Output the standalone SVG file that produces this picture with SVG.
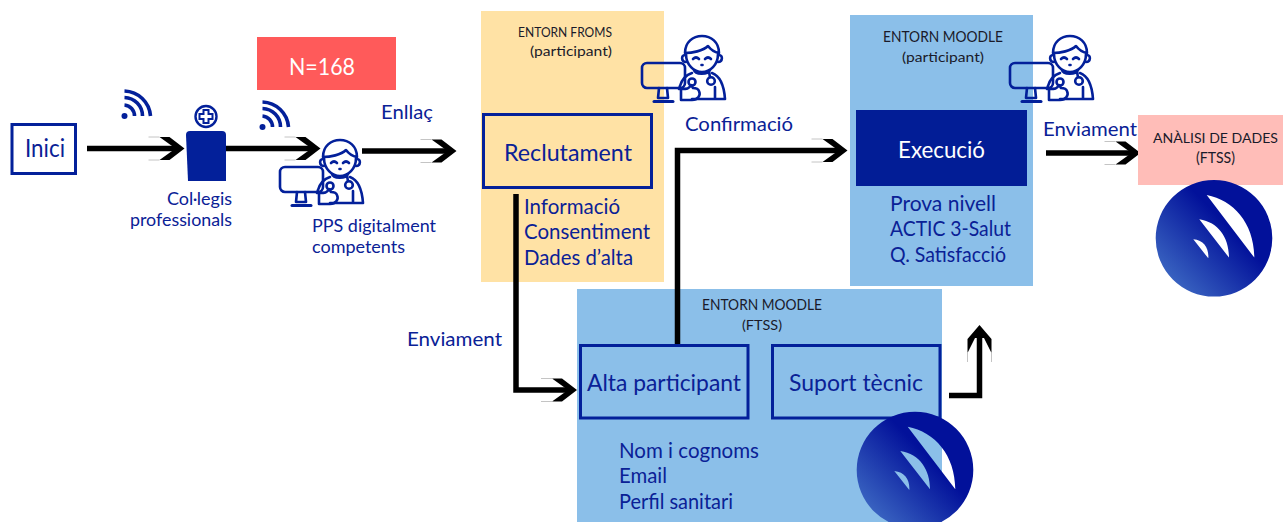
<svg xmlns="http://www.w3.org/2000/svg" xmlns:xlink="http://www.w3.org/1999/xlink" width="1283" height="522" viewBox="0 0 1283 522">
<style>
text{font-family:"Lato","Open Sans","Liberation Sans",sans-serif;fill:#0a2196}
.k{fill:#1a1a2a}
.w{fill:#fff}
.box{fill:none;stroke:#03209a;stroke-width:3}
.ln{fill:none;stroke:#000;stroke-width:5.5;stroke-linejoin:miter}
.ic{fill:none;stroke:#03209a;stroke-width:2.6;stroke-linecap:round;stroke-linejoin:round}
.wf{fill:none;stroke:#03209a;stroke-width:3.6}
</style>
<defs>
<linearGradient id="lg" x1="0.12" y1="0.88" x2="0.62" y2="0.4">
<stop offset="0" stop-color="#3b66c2"/><stop offset="1" stop-color="#02119a"/>
</linearGradient>
<g id="ah">
<path d="M-25 -11.500H-15L0 0L-15 11.500H-25L-9 0Z" fill="#000"/>
<path d="M-36 -11.500H-25M-36 11.500H-25" stroke="#c4c4c4" stroke-width="1" fill="none"/>
</g>
<g id="doc" class="ic">
<rect x="0" y="28" width="43" height="25" rx="5"/>
<path d="M17 53L16 63H26L25 53" /><path d="M12 66.500H31" stroke-width="3"/>
<path d="M43 18C43 7 51 1 60 1C69 1 77 7 77 18C72 17 69 15 66 11C61 16 50 18 43 18Z"/>
<path d="M44 19C44 30 52 37 60 37C68 37 76 30 76 19"/>
<path d="M43 20C39 20 39 27 44 27M77 20C81 20 81 27 76 27"/>
<path d="M51 24Q54 21 57 24M63 24Q66 21 69 24"/><path d="M59.500 30H60.500"/>
<path d="M52 35C53 40 66 40 68 35"/>
<path d="M50 38C44 40 40 44 38 51L37 54M70 38C78 41 82 50 83 64H50M73 52V63M67 37L68 42"/>
<circle cx="69" cy="46" r="3.800"/><circle cx="50" cy="47" r="3.500"/>
<path d="M39 54V65H50C56 65 59 60 57 56C56 53 53 53 51 53L49 50C47 54 45 54 39 54Z"/>
</g>
<g id="wifi" class="wf">
<circle cx="0" cy="0" r="3" fill="#03209a" stroke="none"/>
<path d="M0 -10A11 11 0 0 1 10 1M0 -17.500A18.500 18.500 0 0 1 18 1M0 -24A27 27 0 0 1 26 1" transform="translate(0 -1)"/>
</g>
<path id="logo" fill="url(#lg)" fill-rule="evenodd" d="M-58.300 0A58.300 58.300 0 1 1 58.300 0A58.300 58.300 0 1 1 -58.300 0ZM-7.300 -43.300C20 -38 40 -15 40.300 19.300ZM-14.700 -19C5 -16 15 0 15 19.300ZM-20.700 1C-10 2 -5 10 -5.700 20Z"/>
</defs>

<g id="entorn-froms">
<rect x="481" y="11" width="183" height="271" fill="#ffe2a5"/>
<text x="518" y="37" font-size="14" class="k" textLength="94" lengthAdjust="spacingAndGlyphs">ENTORN FROMS</text>
<text x="530" y="56" font-size="14" class="k" textLength="82" lengthAdjust="spacingAndGlyphs">(participant)</text>
<text x="524" y="214" font-size="21" textLength="96" lengthAdjust="spacingAndGlyphs">Informació</text>
<text x="524" y="239" font-size="21" textLength="126" lengthAdjust="spacingAndGlyphs">Consentiment</text>
<text x="524" y="265" font-size="21" textLength="109" lengthAdjust="spacingAndGlyphs">Dades d’alta</text>
</g>
<g id="entorn-moodle-participant">
<rect x="850" y="15" width="183" height="271" fill="#8bbfe9"/>
<text x="883" y="42" font-size="15" class="k" textLength="120" lengthAdjust="spacingAndGlyphs">ENTORN MOODLE</text>
<text x="902" y="62" font-size="14" class="k" textLength="82" lengthAdjust="spacingAndGlyphs">(participant)</text>
<text x="890" y="211" font-size="21" textLength="106" lengthAdjust="spacingAndGlyphs">Prova nivell</text>
<text x="890" y="236" font-size="21" textLength="121" lengthAdjust="spacingAndGlyphs">ACTIC 3-Salut</text>
<text x="890" y="262" font-size="21" textLength="116" lengthAdjust="spacingAndGlyphs">Q. Satisfacció</text>
</g>
<g id="entorn-moodle-ftss">
<rect x="577" y="289" width="365" height="233" fill="#8bbfe9"/>
<text x="702" y="310" font-size="15" class="k" textLength="120" lengthAdjust="spacingAndGlyphs">ENTORN MOODLE</text>
<text x="742" y="330" font-size="14" class="k" textLength="40" lengthAdjust="spacingAndGlyphs">(FTSS)</text>
<text x="619" y="458" font-size="21" textLength="140" lengthAdjust="spacingAndGlyphs">Nom i cognoms</text>
<text x="619" y="483" font-size="21" textLength="48" lengthAdjust="spacingAndGlyphs">Email</text>
<text x="619" y="509" font-size="21" textLength="114" lengthAdjust="spacingAndGlyphs">Perfil sanitari</text>
</g>

<g id="connectors">
<path class="ln" d="M87 148.500H178"/><use xlink:href="#ah" href="#ah" transform="translate(184.500 148.500)"/>
<path class="ln" d="M226 148.500H314"/><use xlink:href="#ah" href="#ah" transform="translate(320.500 148.500)"/>
<path class="ln" d="M362 151H450"/><use xlink:href="#ah" href="#ah" transform="translate(456.500 151)"/>
<path class="ln" d="M516 194V390H571"/><use xlink:href="#ah" href="#ah" transform="translate(577 390)"/>
<path class="ln" d="M677.500 345V150.500H841"/><use xlink:href="#ah" href="#ah" transform="translate(847.500 150.500)"/>
<path class="ln" d="M1046 153H1134"/><use xlink:href="#ah" href="#ah" transform="translate(1140.500 153)"/>
<path class="ln" d="M949 395.500H979.500V331"/>
<path d="M979.500 325L991.500 339V353L984 338H975L967.500 353V339Z" fill="#000"/>
<path d="M967.500 353V362M991.500 353V362" stroke="#c4c4c4" stroke-width="1" fill="none"/>
</g>

<g id="inici"><rect x="12" y="124.500" width="63.500" height="49" class="box"/><text x="25" y="157" font-size="25" textLength="40" lengthAdjust="spacingAndGlyphs">Inici</text></g>
<g id="wifi-1"><use xlink:href="#wifi" href="#wifi" transform="translate(124.500 116)"/></g>
<g id="col-legis">
<circle cx="206" cy="116.500" r="10.500" fill="none" stroke="#03209a" stroke-width="2.400"/>
<path d="M203.500 110H208.500V114H212.500V119H208.500V123H203.500V119H199.500V114H203.500Z" fill="none" stroke="#03209a" stroke-width="2"/>
<path d="M190 131H222Q226 131 226 135V181H188L186 135Q186 131 190 131Z" fill="#03209a"/>
<text x="167" y="205" font-size="17" textLength="65" lengthAdjust="spacingAndGlyphs">Col·legis</text>
<text x="130" y="226" font-size="17" textLength="102" lengthAdjust="spacingAndGlyphs">professionals</text>
</g>
<g id="n168"><rect x="257" y="37" width="139" height="53" fill="#ff5a5a"/><text x="289" y="75" font-size="23" class="w" textLength="66" lengthAdjust="spacingAndGlyphs">N=168</text></g>
<g id="wifi-2"><use xlink:href="#wifi" href="#wifi" transform="translate(262.500 127)"/></g>
<g id="pps">
<use xlink:href="#doc" href="#doc" transform="translate(280 139)"/>
<text x="312" y="232" font-size="17" textLength="124" lengthAdjust="spacingAndGlyphs">PPS digitalment</text>
<text x="312" y="253" font-size="17" textLength="93" lengthAdjust="spacingAndGlyphs">competents</text>
</g>
<g id="enllac"><text x="381" y="119" font-size="19" textLength="52" lengthAdjust="spacingAndGlyphs">Enllaç</text></g>
<g id="reclutament"><rect x="483.500" y="114.500" width="168" height="73" class="box"/><text x="504" y="161" font-size="23" textLength="128" lengthAdjust="spacingAndGlyphs">Reclutament</text></g>
<g id="doc-froms"><use xlink:href="#doc" href="#doc" transform="translate(642 35)"/></g>
<g id="confirmacio"><text x="685" y="131" font-size="19" textLength="108" lengthAdjust="spacingAndGlyphs">Confirmació</text></g>
<g id="execucio"><rect x="856" y="110" width="171" height="76" fill="#021d96"/><text x="898" y="158" font-size="23" class="w" textLength="87" lengthAdjust="spacingAndGlyphs">Execució</text></g>
<g id="doc-moodle"><use xlink:href="#doc" href="#doc" transform="translate(1010 35)"/></g>
<g id="enviament-1"><text x="1043" y="136" font-size="19" textLength="94" lengthAdjust="spacingAndGlyphs">Enviament</text></g>
<g id="enviament-2"><text x="407" y="346" font-size="19" textLength="95" lengthAdjust="spacingAndGlyphs">Enviament</text></g>
<g id="alta"><rect x="580.500" y="345.500" width="167.500" height="72.500" class="box"/><text x="587" y="391" font-size="23" textLength="154" lengthAdjust="spacingAndGlyphs">Alta participant</text></g>
<g id="suport"><rect x="772.500" y="345.500" width="167.500" height="72.500" class="box"/><text x="789" y="391" font-size="23" textLength="134" lengthAdjust="spacingAndGlyphs">Suport tècnic</text></g>
<g id="analisi"><rect x="1138" y="115" width="145" height="70" fill="#ffbdb8"/>
<text x="1153" y="143" font-size="14" class="k" textLength="125" lengthAdjust="spacingAndGlyphs">ANÀLISI DE DADES</text>
<text x="1196" y="163" font-size="15" class="k" textLength="39" lengthAdjust="spacingAndGlyphs">(FTSS)</text></g>
<g id="logo-ftss" transform="translate(1214 238.300)"><use xlink:href="#logo" href="#logo"/></g>
<g id="logo-moodle" transform="translate(915 470)"><use xlink:href="#logo" href="#logo"/></g>
</svg>
